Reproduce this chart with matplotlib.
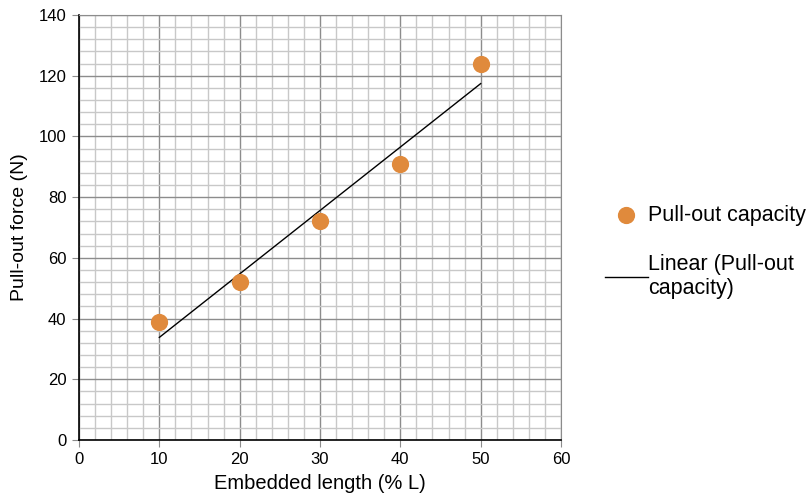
import numpy as np
import matplotlib.pyplot as plt
from matplotlib.ticker import MultipleLocator

plt.rcParams['font.family'] = ['Liberation Sans', 'DejaVu Sans']

# Podaci
embedded_length = [10, 20, 30, 40, 50]  # % L
pullout_force = [39, 52, 72, 91, 124]  # N

# Linearni trend
slope, intercept = np.polyfit(embedded_length, pullout_force, 1)
trend_x = np.array([embedded_length[0], embedded_length[-1]])
trend_y = slope * trend_x + intercept

fig = plt.figure(figsize=(8.06, 5.04), dpi=100)
ax = fig.add_axes([79 / 806, 64 / 504, 482 / 806, 425 / 504])

ax.set_xlim(0, 60)
ax.set_ylim(0, 140)
ax.xaxis.set_major_locator(MultipleLocator(10))
ax.xaxis.set_minor_locator(MultipleLocator(2))
ax.yaxis.set_major_locator(MultipleLocator(20))
ax.yaxis.set_minor_locator(MultipleLocator(4))

ax.grid(which='minor', color='#c8c8c8', linewidth=1.0)
ax.grid(which='major', color='#8c8c8c', linewidth=1.0)
ax.set_axisbelow(True)

for s in ['top', 'right']:
    ax.spines[s].set_color('#8c8c8c')
for s in ['left', 'bottom']:
    ax.spines[s].set_color('black')
    ax.spines[s].set_linewidth(1.2)

ax.tick_params(which='major', direction='out', length=5, color='#8c8c8c', labelsize=12, pad=4)
ax.tick_params(which='minor', length=0)

ax.scatter(embedded_length, pullout_force, s=130, color='#e08a3c', zorder=3, label='Pull-out capacity')
ax.plot(trend_x, trend_y, color='black', linewidth=1.0, zorder=2, label='Linear (Pull-out\ncapacity)')

ax.set_xlabel('Embedded length (% L)', fontsize=14.5, labelpad=5)
ax.set_ylabel('Pull-out force (N)', fontsize=14, labelpad=8)

leg = ax.legend(loc='center left', bbox_to_anchor=(596 / 806, 252 / 504), bbox_transform=fig.transFigure,
                frameon=False, fontsize=15.5, labelspacing=1.3, handlelength=2.0, handletextpad=0.0,
                borderaxespad=0)

fig.savefig('out.png', dpi=100)
